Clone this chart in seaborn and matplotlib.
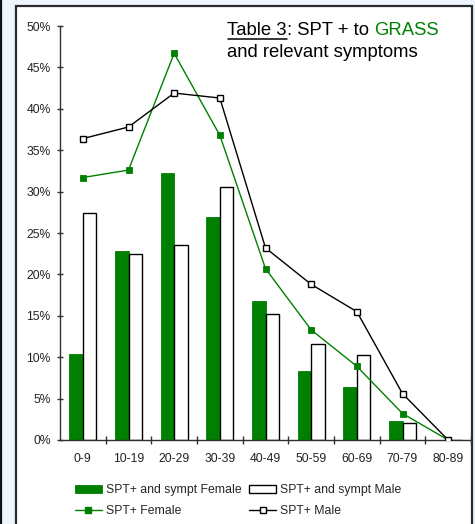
import matplotlib
matplotlib.use("Agg")
import matplotlib.pyplot as plt
from matplotlib.patches import Rectangle, Patch
from matplotlib.lines import Line2D
from matplotlib.ticker import FuncFormatter, MultipleLocator, FixedLocator
import numpy as np
import pandas as pd
import seaborn as sns

# Age groups and percentages
ages = ["0-9", "10-19", "20-29", "30-39", "40-49", "50-59", "60-69", "70-79", "80-89"]
sympt_female = [10.4, 22.8, 32.2, 26.9, 16.8, 8.3, 6.4, 2.3, 0.0]
sympt_male = [27.4, 22.5, 23.5, 30.6, 15.2, 11.6, 10.3, 2.1, 0.0]
spt_female = [31.7, 32.6, 46.7, 36.8, 20.7, 13.3, 8.9, 3.2, 0.0]
spt_male = [36.4, 37.8, 41.9, 41.3, 23.2, 18.8, 15.5, 5.6, 0.0]

series_names = ["SPT+ and sympt Female", "SPT+ and sympt Male", "SPT+ Female", "SPT+ Male"]

GREEN = "#008000"
AXIS_COL = "#303030"
W, H = 475, 524

sns.set_theme(style="white")
plt.rcParams["font.family"] = ["Liberation Sans", "DejaVu Sans"]

fig = plt.figure(figsize=(W / 100, H / 100), dpi=100)
fig.patch.set_facecolor("#EEF5FD")

# white slide panel with dark border
fig.patches.append(Rectangle((15.5 / W, -0.02), (472 - 15.5) / W, (H - 5.5) / H + 0.02,
                             transform=fig.transFigure, facecolor="white",
                             edgecolor="#2b2b2b", linewidth=1.6, zorder=-2))
fig.lines.append(Line2D([0.8 / W, 0.8 / W], [0, 1], transform=fig.transFigure,
                        color="#111111", linewidth=1.6, zorder=-1))

ax = fig.add_axes([60 / W, (H - 440) / H, (471 - 60) / W, (440 - 26) / H])
ax.set_facecolor("none")

bars = pd.DataFrame({
    "age": ages * 2,
    "value": sympt_female + sympt_male,
    "group": [series_names[0]] * len(ages) + [series_names[1]] * len(ages),
})
sns.barplot(data=bars, x="age", y="value", hue="group",
            palette={series_names[0]: GREEN, series_names[1]: "white"},
            width=0.584, gap=0, saturation=1, legend=False, ax=ax, zorder=2)
for p in ax.containers[0]:
    p.set_edgecolor(GREEN)
    p.set_linewidth(0.6)
for p in ax.containers[1]:
    p.set_edgecolor("black")
    p.set_linewidth(1.0)

sns.pointplot(x=ages, y=spt_female, color=GREEN, errorbar=None, ax=ax,
              marker="s", markersize=4.2, linewidth=1.0,
              markerfacecolor=GREEN, markeredgecolor=GREEN, markeredgewidth=0.6, zorder=4)
sns.pointplot(x=ages, y=spt_male, color="black", errorbar=None, ax=ax,
              marker="s", markersize=4.2, linewidth=1.0,
              markerfacecolor="white", markeredgecolor="black", markeredgewidth=1.0, zorder=5)

ax.set_xlim(-0.5, len(ages) - 0.5)
ax.set_ylim(0, 50)
ax.set_xlabel("")
ax.set_ylabel("")

for side in ("top", "right"):
    ax.spines[side].set_visible(False)
for side in ("left", "bottom"):
    ax.spines[side].set_color(AXIS_COL)
    ax.spines[side].set_linewidth(1.0)

ax.yaxis.set_major_locator(MultipleLocator(5))
ax.yaxis.set_major_formatter(FuncFormatter(lambda v, _: f"{v:.0f}%"))
ax.tick_params(axis="y", direction="inout", length=4.5, width=1.0, color=AXIS_COL,
               pad=4.5, labelsize=8.7, labelcolor="#222222", left=True)

# category labels at centres, tick marks at the boundaries
ax.xaxis.set_major_locator(FixedLocator(np.arange(len(ages))))
ax.set_xticklabels(ages)
ax.xaxis.set_minor_locator(FixedLocator(np.arange(len(ages)) + 0.5))
ax.tick_params(axis="x", which="major", length=0, pad=9, labelsize=8.7, labelcolor="#222222")
ax.tick_params(axis="x", which="minor", direction="inout", length=5.5, width=1.0,
               color=AXIS_COL, bottom=True)
ax.grid(False)

# legend below the axes
handles = [
    Patch(facecolor=GREEN, edgecolor=GREEN, linewidth=0.6),
    Line2D([], [], color=GREEN, linewidth=1.0, marker="s", markersize=4.2,
           markerfacecolor=GREEN, markeredgecolor=GREEN),
    Patch(facecolor="white", edgecolor="black", linewidth=1.0),
    Line2D([], [], color="black", linewidth=1.0, marker="s", markersize=4.2,
           markerfacecolor="white", markeredgecolor="black"),
]
labels = [series_names[0], series_names[2], series_names[1], series_names[3]]
fig.legend(handles, labels, ncol=2, loc="upper left",
           bbox_to_anchor=(75 / W, (H - 484) / H), frameon=False,
           fontsize=8.8, handlelength=2.2, handleheight=0.65, handletextpad=0.35,
           columnspacing=0.6, labelspacing=0.75, borderpad=0, borderaxespad=0)

# title in the upper right, with underlined lead and coloured keyword
tfs = 13.3
y1 = 1 - 35 / H
t1 = fig.text(227 / W, y1, "Table 3", fontsize=tfs, color="black", va="baseline")
t2 = ax.annotate(": SPT + to ", xy=(1, 0), xycoords=t1, va="bottom", ha="left",
                 fontsize=tfs, color="black", annotation_clip=False)
t3 = ax.annotate("GRASS", xy=(1, 0), xycoords=t2, va="bottom", ha="left",
                 fontsize=tfs, color=GREEN, annotation_clip=False)
fig.text(227 / W, 1 - 57 / H, "and relevant symptoms", fontsize=tfs, color="black",
         va="baseline")

fig.canvas.draw()
bb = t1.get_window_extent()
uy = y1 - 3.5 / H
fig.lines.append(Line2D([bb.x0 / W + 0.5 / W, bb.x1 / W], [uy, uy], transform=fig.transFigure,
                        color="black", linewidth=1.1))

fig.savefig("out.png", dpi=100, facecolor=fig.get_facecolor())
